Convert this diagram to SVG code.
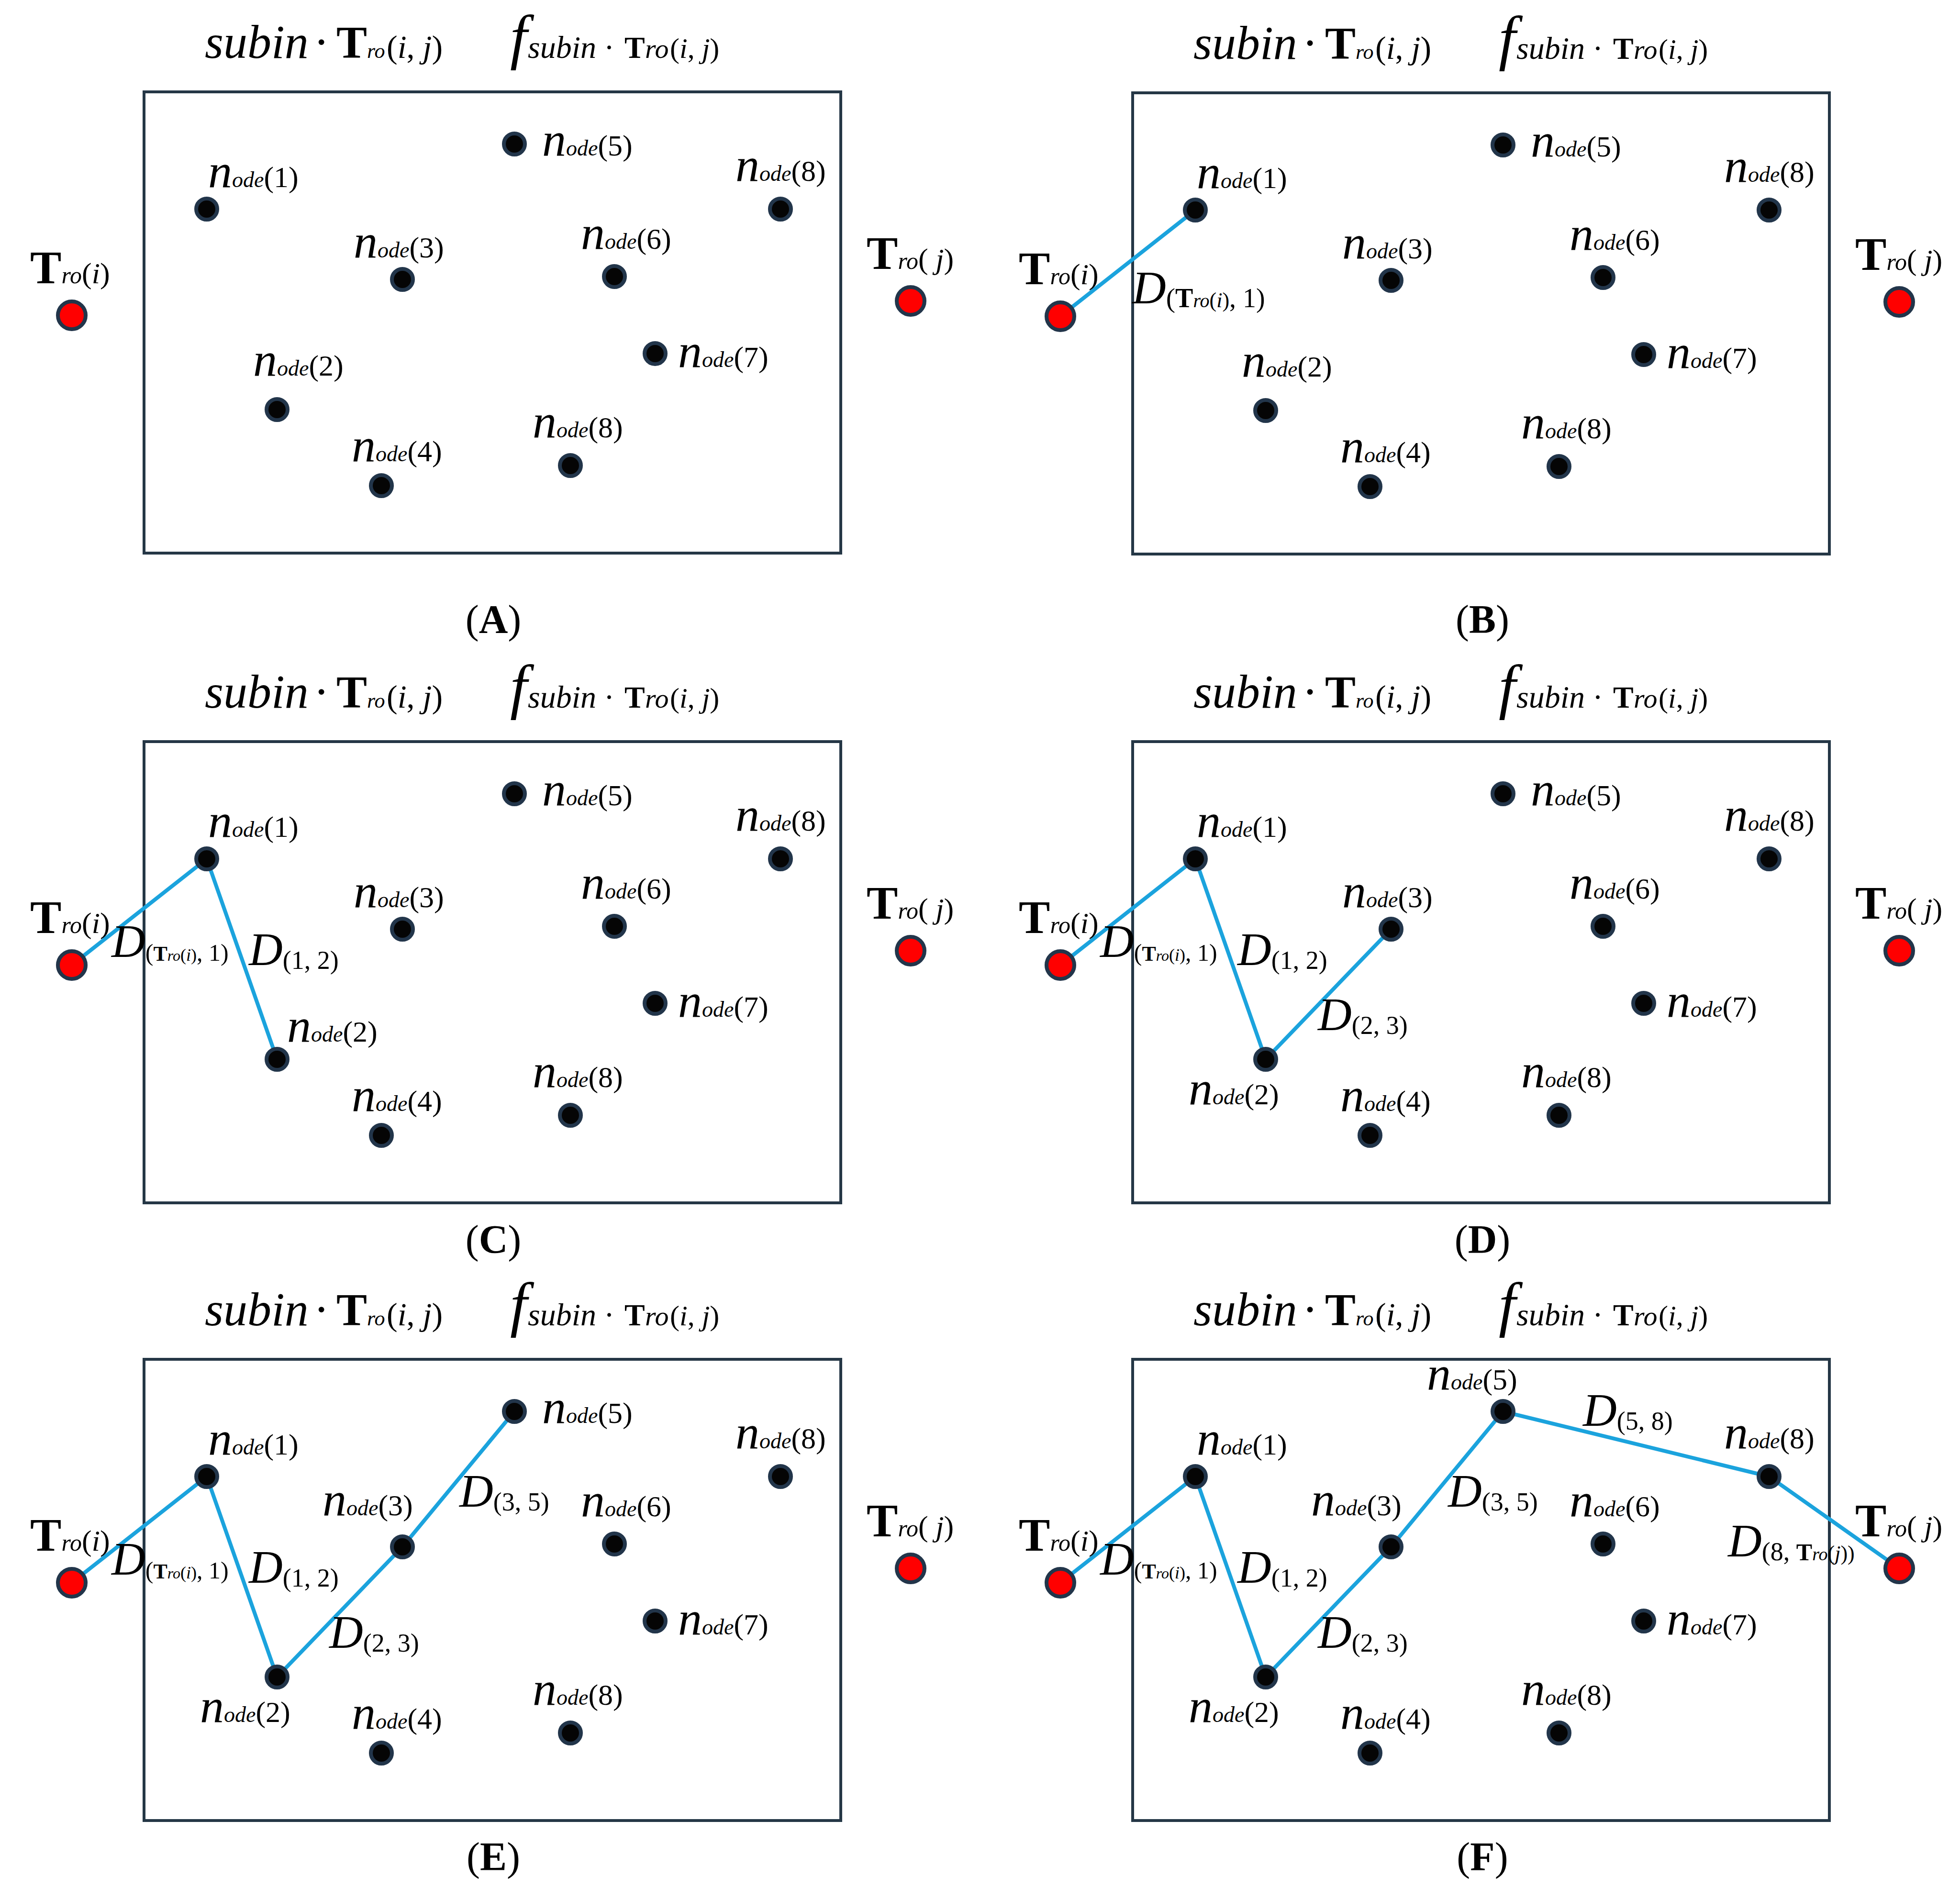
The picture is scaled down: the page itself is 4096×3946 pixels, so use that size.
<svg xmlns="http://www.w3.org/2000/svg" width="4096" height="3946" viewBox="0 0 4096 3946">
<style>
text { font-family: "Liberation Serif", "Times New Roman", serif; fill: #000; }
.it { font-style: italic; }
.b { font-weight: bold; }
.box { fill: none; stroke: #253746; stroke-width: 6; }
.dot { fill: #050505; stroke: #22354a; stroke-width: 8; }
.red { fill: #ff0000; stroke: #22354a; stroke-width: 8; }
.ln { stroke: #1ba3dd; stroke-width: 8; stroke-linecap: round; fill: none; }
.nn { font-style: italic; font-size: 100px; }
.ns { font-style: italic; font-size: 46px; }
.np { font-size: 62px; }
.D { font-style: italic; font-size: 98px; }
.ds { font-size: 54px; }
.T { font-weight: bold; font-size: 98px; }
.tr { font-style: italic; font-size: 50px; }
.tp { font-size: 62px; }
.cap { font-size: 84px; }
.bigf { font-style: italic; font-size: 128px; }
</style>
<rect width="4096" height="3946" fill="#fff"/>

<g id="frames">
  <g id="frame-A" transform="translate(0,0)">
    <text y="121"><tspan x="428" class="it" font-size="100">subin</tspan><tspan x="655" font-size="100">·</tspan><tspan x="703" class="b" font-size="96">T</tspan><tspan x="767" class="it" font-size="44">ro</tspan><tspan x="808" font-size="68">(<tspan class="it">i</tspan>, <tspan class="it">j</tspan>)</tspan></text>
    <text y="121"><tspan x="1066" y="120" class="bigf">f</tspan><tspan x="1103" y="121" class="it" font-size="66">subin</tspan><tspan x="1262" font-size="66">·</tspan><tspan x="1305" class="b" font-size="64">T</tspan><tspan x="1348" class="it" font-size="58">ro</tspan><tspan x="1400" font-size="60">(<tspan class="it">i</tspan>, <tspan class="it">j</tspan>)</tspan></text>
    <rect class="box" x="301" y="192" width="1456" height="964"/>
  </g>
  <g id="frame-B" transform="translate(2066,2)">
    <text y="121"><tspan x="428" class="it" font-size="100">subin</tspan><tspan x="655" font-size="100">·</tspan><tspan x="703" class="b" font-size="96">T</tspan><tspan x="767" class="it" font-size="44">ro</tspan><tspan x="808" font-size="68">(<tspan class="it">i</tspan>, <tspan class="it">j</tspan>)</tspan></text>
    <text y="121"><tspan x="1066" y="120" class="bigf">f</tspan><tspan x="1103" y="121" class="it" font-size="66">subin</tspan><tspan x="1262" font-size="66">·</tspan><tspan x="1305" class="b" font-size="64">T</tspan><tspan x="1348" class="it" font-size="58">ro</tspan><tspan x="1400" font-size="60">(<tspan class="it">i</tspan>, <tspan class="it">j</tspan>)</tspan></text>
    <rect class="box" x="301" y="192" width="1456" height="964"/>
  </g>
  <g id="frame-C" transform="translate(0,1358)">
    <text y="121"><tspan x="428" class="it" font-size="100">subin</tspan><tspan x="655" font-size="100">·</tspan><tspan x="703" class="b" font-size="96">T</tspan><tspan x="767" class="it" font-size="44">ro</tspan><tspan x="808" font-size="68">(<tspan class="it">i</tspan>, <tspan class="it">j</tspan>)</tspan></text>
    <text y="121"><tspan x="1066" y="120" class="bigf">f</tspan><tspan x="1103" y="121" class="it" font-size="66">subin</tspan><tspan x="1262" font-size="66">·</tspan><tspan x="1305" class="b" font-size="64">T</tspan><tspan x="1348" class="it" font-size="58">ro</tspan><tspan x="1400" font-size="60">(<tspan class="it">i</tspan>, <tspan class="it">j</tspan>)</tspan></text>
    <rect class="box" x="301" y="192" width="1456" height="964"/>
  </g>
  <g id="frame-D" transform="translate(2066,1358)">
    <text y="121"><tspan x="428" class="it" font-size="100">subin</tspan><tspan x="655" font-size="100">·</tspan><tspan x="703" class="b" font-size="96">T</tspan><tspan x="767" class="it" font-size="44">ro</tspan><tspan x="808" font-size="68">(<tspan class="it">i</tspan>, <tspan class="it">j</tspan>)</tspan></text>
    <text y="121"><tspan x="1066" y="120" class="bigf">f</tspan><tspan x="1103" y="121" class="it" font-size="66">subin</tspan><tspan x="1262" font-size="66">·</tspan><tspan x="1305" class="b" font-size="64">T</tspan><tspan x="1348" class="it" font-size="58">ro</tspan><tspan x="1400" font-size="60">(<tspan class="it">i</tspan>, <tspan class="it">j</tspan>)</tspan></text>
    <rect class="box" x="301" y="192" width="1456" height="964"/>
  </g>
  <g id="frame-E" transform="translate(0,2649)">
    <text y="121"><tspan x="428" class="it" font-size="100">subin</tspan><tspan x="655" font-size="100">·</tspan><tspan x="703" class="b" font-size="96">T</tspan><tspan x="767" class="it" font-size="44">ro</tspan><tspan x="808" font-size="68">(<tspan class="it">i</tspan>, <tspan class="it">j</tspan>)</tspan></text>
    <text y="121"><tspan x="1066" y="120" class="bigf">f</tspan><tspan x="1103" y="121" class="it" font-size="66">subin</tspan><tspan x="1262" font-size="66">·</tspan><tspan x="1305" class="b" font-size="64">T</tspan><tspan x="1348" class="it" font-size="58">ro</tspan><tspan x="1400" font-size="60">(<tspan class="it">i</tspan>, <tspan class="it">j</tspan>)</tspan></text>
    <rect class="box" x="301" y="192" width="1456" height="964"/>
  </g>
  <g id="frame-F" transform="translate(2066,2649)">
    <text y="121"><tspan x="428" class="it" font-size="100">subin</tspan><tspan x="655" font-size="100">·</tspan><tspan x="703" class="b" font-size="96">T</tspan><tspan x="767" class="it" font-size="44">ro</tspan><tspan x="808" font-size="68">(<tspan class="it">i</tspan>, <tspan class="it">j</tspan>)</tspan></text>
    <text y="121"><tspan x="1066" y="120" class="bigf">f</tspan><tspan x="1103" y="121" class="it" font-size="66">subin</tspan><tspan x="1262" font-size="66">·</tspan><tspan x="1305" class="b" font-size="64">T</tspan><tspan x="1348" class="it" font-size="58">ro</tspan><tspan x="1400" font-size="60">(<tspan class="it">i</tspan>, <tspan class="it">j</tspan>)</tspan></text>
    <rect class="box" x="301" y="192" width="1456" height="964"/>
  </g>
</g>

<g id="connectors">
  <g id="conn-B" transform="translate(2066,2)">
    <line class="ln" x1="150" y1="659" x2="432" y2="437"/>
  </g>
  <g id="conn-C" transform="translate(0,1358)">
    <polyline class="ln" points="150,659 432,437 579,856"/>
  </g>
  <g id="conn-D" transform="translate(2066,1358)">
    <polyline class="ln" points="150,659 432,437 579,856 841,584"/>
  </g>
  <g id="conn-E" transform="translate(0,2649)">
    <polyline class="ln" points="150,659 432,437 579,856 841,584 1075,301"/>
  </g>
  <g id="conn-F" transform="translate(2066,2649)">
    <polyline class="ln" points="150,659 432,437 579,856 841,584 1075,301 1631,437 1903,629"/>
  </g>
</g>

<g id="edge-labels">
  <g transform="translate(2066,2)">
    <text x="300" y="632"><tspan class="D">D</tspan><tspan font-size="58" dy="8">(</tspan><tspan class="b" font-size="56">T</tspan><tspan class="it" font-size="40">ro</tspan><tspan font-size="44">(<tspan class="it">i</tspan>)</tspan><tspan font-size="56">, 1)</tspan></text>
  </g>
  <g transform="translate(0,1358)">
    <text x="233" y="642"><tspan class="D">D</tspan><tspan font-size="50" dy="8">(</tspan><tspan class="b" font-size="44">T</tspan><tspan class="it" font-size="32">ro</tspan><tspan font-size="36">(<tspan class="it">i</tspan>)</tspan><tspan font-size="50">, 1)</tspan></text>
    <text x="520" y="659"><tspan class="D">D</tspan><tspan class="ds" dy="8">(1, 2)</tspan></text>
  </g>
  <g transform="translate(2066,1358)">
    <text x="233" y="642"><tspan class="D">D</tspan><tspan font-size="50" dy="8">(</tspan><tspan class="b" font-size="44">T</tspan><tspan class="it" font-size="32">ro</tspan><tspan font-size="36">(<tspan class="it">i</tspan>)</tspan><tspan font-size="50">, 1)</tspan></text>
    <text x="520" y="659"><tspan class="D">D</tspan><tspan class="ds" dy="8">(1, 2)</tspan></text>
    <text x="688" y="795"><tspan class="D">D</tspan><tspan class="ds" dy="8">(2, 3)</tspan></text>
  </g>
  <g transform="translate(0,2649)">
    <text x="233" y="642"><tspan class="D">D</tspan><tspan font-size="50" dy="8">(</tspan><tspan class="b" font-size="44">T</tspan><tspan class="it" font-size="32">ro</tspan><tspan font-size="36">(<tspan class="it">i</tspan>)</tspan><tspan font-size="50">, 1)</tspan></text>
    <text x="520" y="659"><tspan class="D">D</tspan><tspan class="ds" dy="8">(1, 2)</tspan></text>
    <text x="688" y="795"><tspan class="D">D</tspan><tspan class="ds" dy="8">(2, 3)</tspan></text>
    <text x="960" y="500"><tspan class="D">D</tspan><tspan class="ds" dy="8">(3, 5)</tspan></text>
  </g>
  <g transform="translate(2066,2649)">
    <text x="233" y="642"><tspan class="D">D</tspan><tspan font-size="50" dy="8">(</tspan><tspan class="b" font-size="44">T</tspan><tspan class="it" font-size="32">ro</tspan><tspan font-size="36">(<tspan class="it">i</tspan>)</tspan><tspan font-size="50">, 1)</tspan></text>
    <text x="520" y="659"><tspan class="D">D</tspan><tspan class="ds" dy="8">(1, 2)</tspan></text>
    <text x="688" y="795"><tspan class="D">D</tspan><tspan class="ds" dy="8">(2, 3)</tspan></text>
    <text x="960" y="500"><tspan class="D">D</tspan><tspan class="ds" dy="8">(3, 5)</tspan></text>
    <text x="1242" y="331"><tspan class="D">D</tspan><tspan class="ds" dy="8">(5, 8)</tspan></text>
    <text x="1545" y="604"><tspan class="D">D</tspan><tspan font-size="54" dy="8">(8, </tspan><tspan class="b" font-size="50">T</tspan><tspan class="it" font-size="38">ro</tspan><tspan font-size="44">(<tspan class="it">j</tspan>))</tspan></text>
  </g>
</g>

<g id="nodes">
  <g id="nodes-A" transform="translate(0,0)">
    <g id="A-Ti"><circle class="red" cx="150" cy="659" r="29"/><text x="63" y="592"><tspan class="T">T</tspan><tspan class="tr">ro</tspan><tspan class="tp">(<tspan class="it">i</tspan>)</tspan></text></g>
    <g id="A-Tj"><circle class="red" cx="1903" cy="629" r="29"/><text x="1811" y="562"><tspan class="T">T</tspan><tspan class="tr">ro</tspan><tspan class="tp">( <tspan class="it">j</tspan>)</tspan></text></g>
    <g id="A-n1"><circle class="dot" cx="432" cy="437" r="22"/><text x="435" y="391"><tspan class="nn">n</tspan><tspan class="ns">ode</tspan><tspan class="np">(1)</tspan></text></g>
    <g id="A-n2"><circle class="dot" cx="579" cy="856" r="22"/><text x="529" y="785"><tspan class="nn">n</tspan><tspan class="ns">ode</tspan><tspan class="np">(2)</tspan></text></g>
    <g id="A-n3"><circle class="dot" cx="841" cy="584" r="22"/><text x="739" y="538"><tspan class="nn">n</tspan><tspan class="ns">ode</tspan><tspan class="np">(3)</tspan></text></g>
    <g id="A-n4"><circle class="dot" cx="797" cy="1015" r="22"/><text x="735" y="964"><tspan class="nn">n</tspan><tspan class="ns">ode</tspan><tspan class="np">(4)</tspan></text></g>
    <g id="A-n5"><circle class="dot" cx="1075" cy="301" r="22"/><text x="1133" y="325"><tspan class="nn">n</tspan><tspan class="ns">ode</tspan><tspan class="np">(5)</tspan></text></g>
    <g id="A-n6"><circle class="dot" cx="1284" cy="578" r="22"/><text x="1214" y="520"><tspan class="nn">n</tspan><tspan class="ns">ode</tspan><tspan class="np">(6)</tspan></text></g>
    <g id="A-n7"><circle class="dot" cx="1369" cy="739" r="22"/><text x="1417" y="767"><tspan class="nn">n</tspan><tspan class="ns">ode</tspan><tspan class="np">(7)</tspan></text></g>
    <g id="A-n8a"><circle class="dot" cx="1631" cy="437" r="22"/><text x="1537" y="378"><tspan class="nn">n</tspan><tspan class="ns">ode</tspan><tspan class="np">(8)</tspan></text></g>
    <g id="A-n8b"><circle class="dot" cx="1192" cy="973" r="22"/><text x="1113" y="914"><tspan class="nn">n</tspan><tspan class="ns">ode</tspan><tspan class="np">(8)</tspan></text></g>
  </g>
  <g id="nodes-B" transform="translate(2066,2)">
    <g id="B-Ti"><circle class="red" cx="150" cy="659" r="29"/><text x="63" y="592"><tspan class="T">T</tspan><tspan class="tr">ro</tspan><tspan class="tp">(<tspan class="it">i</tspan>)</tspan></text></g>
    <g id="B-Tj"><circle class="red" cx="1903" cy="629" r="29"/><text x="1811" y="562"><tspan class="T">T</tspan><tspan class="tr">ro</tspan><tspan class="tp">( <tspan class="it">j</tspan>)</tspan></text></g>
    <g id="B-n1"><circle class="dot" cx="432" cy="437" r="22"/><text x="435" y="391"><tspan class="nn">n</tspan><tspan class="ns">ode</tspan><tspan class="np">(1)</tspan></text></g>
    <g id="B-n2"><circle class="dot" cx="579" cy="856" r="22"/><text x="529" y="785"><tspan class="nn">n</tspan><tspan class="ns">ode</tspan><tspan class="np">(2)</tspan></text></g>
    <g id="B-n3"><circle class="dot" cx="841" cy="584" r="22"/><text x="739" y="538"><tspan class="nn">n</tspan><tspan class="ns">ode</tspan><tspan class="np">(3)</tspan></text></g>
    <g id="B-n4"><circle class="dot" cx="797" cy="1015" r="22"/><text x="735" y="964"><tspan class="nn">n</tspan><tspan class="ns">ode</tspan><tspan class="np">(4)</tspan></text></g>
    <g id="B-n5"><circle class="dot" cx="1075" cy="301" r="22"/><text x="1133" y="325"><tspan class="nn">n</tspan><tspan class="ns">ode</tspan><tspan class="np">(5)</tspan></text></g>
    <g id="B-n6"><circle class="dot" cx="1284" cy="578" r="22"/><text x="1214" y="520"><tspan class="nn">n</tspan><tspan class="ns">ode</tspan><tspan class="np">(6)</tspan></text></g>
    <g id="B-n7"><circle class="dot" cx="1369" cy="739" r="22"/><text x="1417" y="767"><tspan class="nn">n</tspan><tspan class="ns">ode</tspan><tspan class="np">(7)</tspan></text></g>
    <g id="B-n8a"><circle class="dot" cx="1631" cy="437" r="22"/><text x="1537" y="378"><tspan class="nn">n</tspan><tspan class="ns">ode</tspan><tspan class="np">(8)</tspan></text></g>
    <g id="B-n8b"><circle class="dot" cx="1192" cy="973" r="22"/><text x="1113" y="914"><tspan class="nn">n</tspan><tspan class="ns">ode</tspan><tspan class="np">(8)</tspan></text></g>
  </g>
  <g id="nodes-C" transform="translate(0,1358)">
    <g id="C-Ti"><circle class="red" cx="150" cy="659" r="29"/><text x="63" y="592"><tspan class="T">T</tspan><tspan class="tr">ro</tspan><tspan class="tp">(<tspan class="it">i</tspan>)</tspan></text></g>
    <g id="C-Tj"><circle class="red" cx="1903" cy="629" r="29"/><text x="1811" y="562"><tspan class="T">T</tspan><tspan class="tr">ro</tspan><tspan class="tp">( <tspan class="it">j</tspan>)</tspan></text></g>
    <g id="C-n1"><circle class="dot" cx="432" cy="437" r="22"/><text x="435" y="391"><tspan class="nn">n</tspan><tspan class="ns">ode</tspan><tspan class="np">(1)</tspan></text></g>
    <g id="C-n2"><circle class="dot" cx="579" cy="856" r="22"/><text x="600" y="819"><tspan class="nn">n</tspan><tspan class="ns">ode</tspan><tspan class="np">(2)</tspan></text></g>
    <g id="C-n3"><circle class="dot" cx="841" cy="584" r="22"/><text x="739" y="538"><tspan class="nn">n</tspan><tspan class="ns">ode</tspan><tspan class="np">(3)</tspan></text></g>
    <g id="C-n4"><circle class="dot" cx="797" cy="1015" r="22"/><text x="735" y="964"><tspan class="nn">n</tspan><tspan class="ns">ode</tspan><tspan class="np">(4)</tspan></text></g>
    <g id="C-n5"><circle class="dot" cx="1075" cy="301" r="22"/><text x="1133" y="325"><tspan class="nn">n</tspan><tspan class="ns">ode</tspan><tspan class="np">(5)</tspan></text></g>
    <g id="C-n6"><circle class="dot" cx="1284" cy="578" r="22"/><text x="1214" y="520"><tspan class="nn">n</tspan><tspan class="ns">ode</tspan><tspan class="np">(6)</tspan></text></g>
    <g id="C-n7"><circle class="dot" cx="1369" cy="739" r="22"/><text x="1417" y="767"><tspan class="nn">n</tspan><tspan class="ns">ode</tspan><tspan class="np">(7)</tspan></text></g>
    <g id="C-n8a"><circle class="dot" cx="1631" cy="437" r="22"/><text x="1537" y="378"><tspan class="nn">n</tspan><tspan class="ns">ode</tspan><tspan class="np">(8)</tspan></text></g>
    <g id="C-n8b"><circle class="dot" cx="1192" cy="973" r="22"/><text x="1113" y="914"><tspan class="nn">n</tspan><tspan class="ns">ode</tspan><tspan class="np">(8)</tspan></text></g>
  </g>
  <g id="nodes-D" transform="translate(2066,1358)">
    <g id="D-Ti"><circle class="red" cx="150" cy="659" r="29"/><text x="63" y="592"><tspan class="T">T</tspan><tspan class="tr">ro</tspan><tspan class="tp">(<tspan class="it">i</tspan>)</tspan></text></g>
    <g id="D-Tj"><circle class="red" cx="1903" cy="629" r="29"/><text x="1811" y="562"><tspan class="T">T</tspan><tspan class="tr">ro</tspan><tspan class="tp">( <tspan class="it">j</tspan>)</tspan></text></g>
    <g id="D-n1"><circle class="dot" cx="432" cy="437" r="22"/><text x="435" y="391"><tspan class="nn">n</tspan><tspan class="ns">ode</tspan><tspan class="np">(1)</tspan></text></g>
    <g id="D-n2"><circle class="dot" cx="579" cy="856" r="22"/><text x="418" y="950"><tspan class="nn">n</tspan><tspan class="ns">ode</tspan><tspan class="np">(2)</tspan></text></g>
    <g id="D-n3"><circle class="dot" cx="841" cy="584" r="22"/><text x="739" y="538"><tspan class="nn">n</tspan><tspan class="ns">ode</tspan><tspan class="np">(3)</tspan></text></g>
    <g id="D-n4"><circle class="dot" cx="797" cy="1015" r="22"/><text x="735" y="964"><tspan class="nn">n</tspan><tspan class="ns">ode</tspan><tspan class="np">(4)</tspan></text></g>
    <g id="D-n5"><circle class="dot" cx="1075" cy="301" r="22"/><text x="1133" y="325"><tspan class="nn">n</tspan><tspan class="ns">ode</tspan><tspan class="np">(5)</tspan></text></g>
    <g id="D-n6"><circle class="dot" cx="1284" cy="578" r="22"/><text x="1214" y="520"><tspan class="nn">n</tspan><tspan class="ns">ode</tspan><tspan class="np">(6)</tspan></text></g>
    <g id="D-n7"><circle class="dot" cx="1369" cy="739" r="22"/><text x="1417" y="767"><tspan class="nn">n</tspan><tspan class="ns">ode</tspan><tspan class="np">(7)</tspan></text></g>
    <g id="D-n8a"><circle class="dot" cx="1631" cy="437" r="22"/><text x="1537" y="378"><tspan class="nn">n</tspan><tspan class="ns">ode</tspan><tspan class="np">(8)</tspan></text></g>
    <g id="D-n8b"><circle class="dot" cx="1192" cy="973" r="22"/><text x="1113" y="914"><tspan class="nn">n</tspan><tspan class="ns">ode</tspan><tspan class="np">(8)</tspan></text></g>
  </g>
  <g id="nodes-E" transform="translate(0,2649)">
    <g id="E-Ti"><circle class="red" cx="150" cy="659" r="29"/><text x="63" y="592"><tspan class="T">T</tspan><tspan class="tr">ro</tspan><tspan class="tp">(<tspan class="it">i</tspan>)</tspan></text></g>
    <g id="E-Tj"><circle class="red" cx="1903" cy="629" r="29"/><text x="1811" y="562"><tspan class="T">T</tspan><tspan class="tr">ro</tspan><tspan class="tp">( <tspan class="it">j</tspan>)</tspan></text></g>
    <g id="E-n1"><circle class="dot" cx="432" cy="437" r="22"/><text x="435" y="391"><tspan class="nn">n</tspan><tspan class="ns">ode</tspan><tspan class="np">(1)</tspan></text></g>
    <g id="E-n2"><circle class="dot" cx="579" cy="856" r="22"/><text x="418" y="950"><tspan class="nn">n</tspan><tspan class="ns">ode</tspan><tspan class="np">(2)</tspan></text></g>
    <g id="E-n3"><circle class="dot" cx="841" cy="584" r="22"/><text x="674" y="518"><tspan class="nn">n</tspan><tspan class="ns">ode</tspan><tspan class="np">(3)</tspan></text></g>
    <g id="E-n4"><circle class="dot" cx="797" cy="1015" r="22"/><text x="735" y="964"><tspan class="nn">n</tspan><tspan class="ns">ode</tspan><tspan class="np">(4)</tspan></text></g>
    <g id="E-n5"><circle class="dot" cx="1075" cy="301" r="22"/><text x="1133" y="325"><tspan class="nn">n</tspan><tspan class="ns">ode</tspan><tspan class="np">(5)</tspan></text></g>
    <g id="E-n6"><circle class="dot" cx="1284" cy="578" r="22"/><text x="1214" y="520"><tspan class="nn">n</tspan><tspan class="ns">ode</tspan><tspan class="np">(6)</tspan></text></g>
    <g id="E-n7"><circle class="dot" cx="1369" cy="739" r="22"/><text x="1417" y="767"><tspan class="nn">n</tspan><tspan class="ns">ode</tspan><tspan class="np">(7)</tspan></text></g>
    <g id="E-n8a"><circle class="dot" cx="1631" cy="437" r="22"/><text x="1537" y="378"><tspan class="nn">n</tspan><tspan class="ns">ode</tspan><tspan class="np">(8)</tspan></text></g>
    <g id="E-n8b"><circle class="dot" cx="1192" cy="973" r="22"/><text x="1113" y="914"><tspan class="nn">n</tspan><tspan class="ns">ode</tspan><tspan class="np">(8)</tspan></text></g>
  </g>
  <g id="nodes-F" transform="translate(2066,2649)">
    <g id="F-Ti"><circle class="red" cx="150" cy="659" r="29"/><text x="63" y="592"><tspan class="T">T</tspan><tspan class="tr">ro</tspan><tspan class="tp">(<tspan class="it">i</tspan>)</tspan></text></g>
    <g id="F-Tj"><circle class="red" cx="1903" cy="629" r="29"/><text x="1811" y="562"><tspan class="T">T</tspan><tspan class="tr">ro</tspan><tspan class="tp">( <tspan class="it">j</tspan>)</tspan></text></g>
    <g id="F-n1"><circle class="dot" cx="432" cy="437" r="22"/><text x="435" y="391"><tspan class="nn">n</tspan><tspan class="ns">ode</tspan><tspan class="np">(1)</tspan></text></g>
    <g id="F-n2"><circle class="dot" cx="579" cy="856" r="22"/><text x="418" y="950"><tspan class="nn">n</tspan><tspan class="ns">ode</tspan><tspan class="np">(2)</tspan></text></g>
    <g id="F-n3"><circle class="dot" cx="841" cy="584" r="22"/><text x="674" y="518"><tspan class="nn">n</tspan><tspan class="ns">ode</tspan><tspan class="np">(3)</tspan></text></g>
    <g id="F-n4"><circle class="dot" cx="797" cy="1015" r="22"/><text x="735" y="964"><tspan class="nn">n</tspan><tspan class="ns">ode</tspan><tspan class="np">(4)</tspan></text></g>
    <g id="F-n5"><circle class="dot" cx="1075" cy="301" r="22"/><text x="916" y="255"><tspan class="nn">n</tspan><tspan class="ns">ode</tspan><tspan class="np">(5)</tspan></text></g>
    <g id="F-n6"><circle class="dot" cx="1284" cy="578" r="22"/><text x="1214" y="520"><tspan class="nn">n</tspan><tspan class="ns">ode</tspan><tspan class="np">(6)</tspan></text></g>
    <g id="F-n7"><circle class="dot" cx="1369" cy="739" r="22"/><text x="1417" y="767"><tspan class="nn">n</tspan><tspan class="ns">ode</tspan><tspan class="np">(7)</tspan></text></g>
    <g id="F-n8a"><circle class="dot" cx="1631" cy="437" r="22"/><text x="1537" y="378"><tspan class="nn">n</tspan><tspan class="ns">ode</tspan><tspan class="np">(8)</tspan></text></g>
    <g id="F-n8b"><circle class="dot" cx="1192" cy="973" r="22"/><text x="1113" y="914"><tspan class="nn">n</tspan><tspan class="ns">ode</tspan><tspan class="np">(8)</tspan></text></g>
  </g>
</g>

<g id="captions">
  <text class="cap" x="1031" y="1323" text-anchor="middle">(<tspan class="b">A</tspan>)</text>
  <text class="cap" x="3098" y="1323" text-anchor="middle">(<tspan class="b">B</tspan>)</text>
  <text class="cap" x="1031" y="2619" text-anchor="middle">(<tspan class="b">C</tspan>)</text>
  <text class="cap" x="3098" y="2619" text-anchor="middle">(<tspan class="b">D</tspan>)</text>
  <text class="cap" x="1031" y="3909" text-anchor="middle">(<tspan class="b">E</tspan>)</text>
  <text class="cap" x="3098" y="3909" text-anchor="middle">(<tspan class="b">F</tspan>)</text>
</g>
</svg>
